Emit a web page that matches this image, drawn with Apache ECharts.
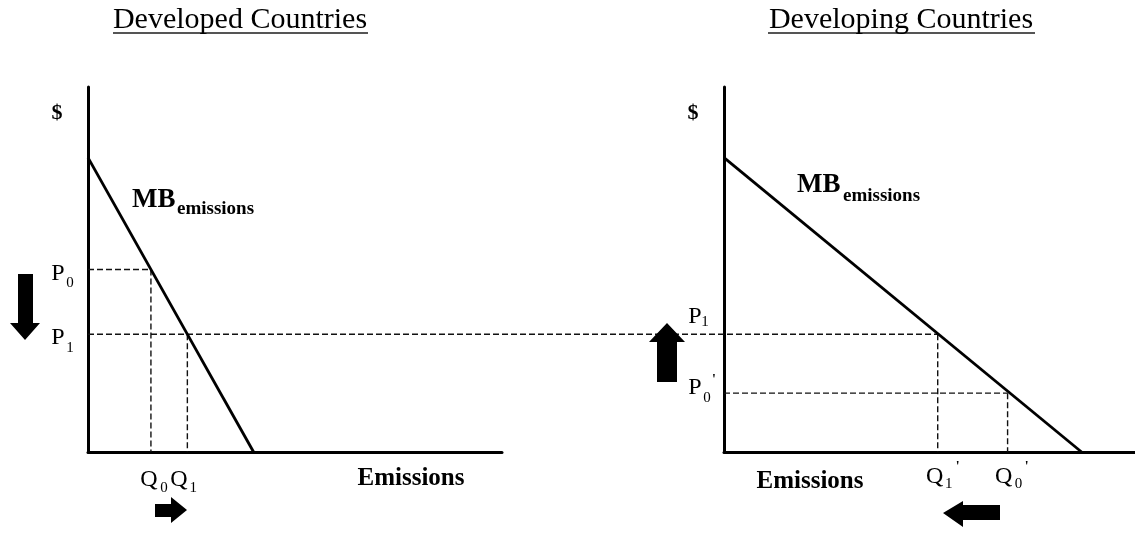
<!DOCTYPE html>
<html><head><meta charset="utf-8">
<script src="https://cdn.jsdelivr.net/npm/echarts@6/dist/echarts.min.js"></script>
<style>html,body{margin:0;padding:0;background:#fff}#c{width:1135px;height:537px}</style>
</head><body><div id="c"></div>
<script>
// ---- data ----
const panelTitles = ['Developed Countries', 'Developing Countries'];
const devMB = [[0, 10], [4, 0]];          // MB emissions, developed
const dvgMB = [[0, 10], [8.7, 0]];        // MB emissions, developing
const devPrices = [6.2, 4];               // P0, P1
const devQuantities = [1.52, 2.4];        // Q0, Q1
const dvgPrices = [2, 4];                 // P0', P1
const dvgQuantities = [6.9, 5.2];         // Q0', Q1'
const axisMaxX = 10;
const axisMaxY = 12.4;

const FONT = '"Liberation Serif", "Times New Roman", serif';
const chart = echarts.init(document.getElementById('c'), null, {renderer: 'canvas'});

function axisX(gi) {
  return {type: 'value', gridIndex: gi, min: 0, max: axisMaxX,
    axisLine: {show: true, onZero: false, lineStyle: {color: '#000', width: 3}},
    axisTick: {show: false}, axisLabel: {show: false}, splitLine: {show: false}};
}
function axisY(gi) {
  return {type: 'value', gridIndex: gi, min: 0, max: axisMaxY,
    axisLine: {show: true, onZero: false, lineStyle: {color: '#000', width: 3}},
    axisTick: {show: false}, axisLabel: {show: false}, splitLine: {show: false}};
}
const dash = {color: '#111', width: 1.4, type: [6, 3]};
function seg(gi, data, style) {
  return {type: 'line', xAxisIndex: gi, yAxisIndex: gi, data: data, symbol: 'none',
    silent: true, animation: false, lineStyle: style, z: style === dash ? 2 : 3};
}
const mbStyle = {color: '#000', width: 2.8};

chart.setOption({
  animation: false,
  backgroundColor: '#fff',
  grid: [
    {left: 88, top: 87, width: 414, height: 365},
    {left: 724, top: 87, width: 411, height: 365}
  ],
  xAxis: [axisX(0), axisX(1)],
  yAxis: [axisY(0), axisY(1)],
  series: [
    seg(0, devMB, mbStyle),
    seg(0, [[0, devPrices[0]], [devQuantities[0], devPrices[0]]], dash),
    seg(0, [[devQuantities[0], devPrices[0]], [devQuantities[0], 0]], dash),
    seg(0, [[devQuantities[1], devPrices[1]], [devQuantities[1], 0]], dash),
    seg(1, dvgMB, mbStyle),
    seg(1, [[0, dvgPrices[0]], [dvgQuantities[0], dvgPrices[0]]], dash),
    seg(1, [[dvgQuantities[0], dvgPrices[0]], [dvgQuantities[0], 0]], dash),
    seg(1, [[dvgQuantities[1], dvgPrices[1]], [dvgQuantities[1], 0]], dash)
  ]
});

const px = (gi, p) => chart.convertToPixel({gridIndex: gi}, p);
function txt(x, y, s, size, weight, align) {
  return {type: 'text', x: x, y: y, silent: true, z: 10,
    style: {text: s, fontSize: size, fontFamily: FONT, fontWeight: weight || 'normal',
      fill: '#000', align: align || 'center', verticalAlign: 'middle'}};
}
function poly(points) {
  return {type: 'polygon', silent: true, z: 10, shape: {points: points}, style: {fill: '#000'}};
}

const g = [];
// titles with underline
g.push(txt(240, 20, panelTitles[0], 30));
g.push({type: 'line', silent: true, shape: {x1: 113, y1: 33, x2: 368, y2: 33}, style: {stroke: '#555', lineWidth: 2}});
g.push(txt(901, 20, panelTitles[1], 30));
g.push({type: 'line', silent: true, shape: {x1: 768, y1: 33, x2: 1035, y2: 33}, style: {stroke: '#555', lineWidth: 2}});

// $ labels
g.push(txt(57, 113, '$', 22, 'bold'));
g.push(txt(693, 113, '$', 22, 'bold'));

// MB labels
g.push(txt(132, 200, 'MB', 27, 'bold', 'left'));
g.push(txt(177, 209, 'emissions', 19, 'bold', 'left'));
g.push(txt(797, 185, 'MB', 27, 'bold', 'left'));
g.push(txt(843, 196, 'emissions', 19, 'bold', 'left'));

// Emissions axis titles
g.push(txt(411, 479, 'Emissions', 25, 'bold'));
g.push(txt(810, 482, 'Emissions', 25, 'bold'));

// long P1 dashed line from developed y-axis to Q1' in developing panel
const a = px(0, [0, devPrices[1]]);
const b = px(1, [dvgQuantities[1], dvgPrices[1]]);
g.push({type: 'line', silent: true, z: 2, shape: {x1: a[0], y1: a[1], x2: b[0], y2: b[1]},
  style: {stroke: '#111', lineWidth: 1.4, lineDash: [6, 3]}});

// price labels, developed
const lp0 = px(0, [0, devPrices[0]]), lp1 = px(0, [0, devPrices[1]]);
g.push(txt(lp0[0] - 30, lp0[1] + 4, 'P', 24));
g.push(txt(lp0[0] - 18, lp0[1] + 14, '0', 15));
g.push(txt(lp1[0] - 30, lp1[1] + 3, 'P', 24));
g.push(txt(lp1[0] - 18, lp1[1] + 14, '1', 15));
// price labels, developing
const rp0 = px(1, [0, dvgPrices[0]]), rp1 = px(1, [0, dvgPrices[1]]);
g.push(txt(rp1[0] - 29, rp1[1] - 18, 'P', 24));
g.push(txt(rp1[0] - 19, rp1[1] - 12, '1', 15));
g.push(txt(rp0[0] - 29, rp0[1] - 5, 'P', 24));
g.push(txt(rp0[0] - 17, rp0[1] + 5, '0', 15));
g.push(txt(rp0[0] - 10, rp0[1] - 13, "'", 14, 'bold'));

// quantity labels, developed
const lq0 = px(0, [devQuantities[0], 0]), lq1 = px(0, [devQuantities[1], 0]);
g.push(txt(lq0[0] - 2, 480, 'Q', 24));
g.push(txt(lq0[0] + 13, 488, '0', 15));
g.push(txt(lq1[0] - 8.5, 480, 'Q', 24));
g.push(txt(lq1[0] + 6, 488, '1', 15));
// quantity labels, developing
const rq0 = px(1, [dvgQuantities[0], 0]), rq1 = px(1, [dvgQuantities[1], 0]);
g.push(txt(rq1[0] - 3, 477, 'Q', 24));
g.push(txt(rq1[0] + 11, 484, '1', 15));
g.push(txt(rq1[0] + 20, 467, "'", 14, 'bold'));
g.push(txt(rq0[0] - 4, 477, 'Q', 24));
g.push(txt(rq0[0] + 11, 484, '0', 15));
g.push(txt(rq0[0] + 19, 467, "'", 14, 'bold'));

// block arrows
g.push(poly([[18, 274], [33, 274], [33, 323], [40, 323], [25, 340], [10, 323], [18, 323]]));      // down
g.push(poly([[657, 382], [677, 382], [677, 342], [685, 342], [667, 323], [649, 342], [657, 342]])); // up
g.push(poly([[155, 504], [171, 504], [171, 497], [187, 510], [171, 523], [171, 517], [155, 517]])); // right
g.push(poly([[1000, 505], [963, 505], [963, 501], [943, 513], [963, 527], [963, 520], [1000, 520]])); // left

chart.setOption({graphic: g});
</script></body></html>
